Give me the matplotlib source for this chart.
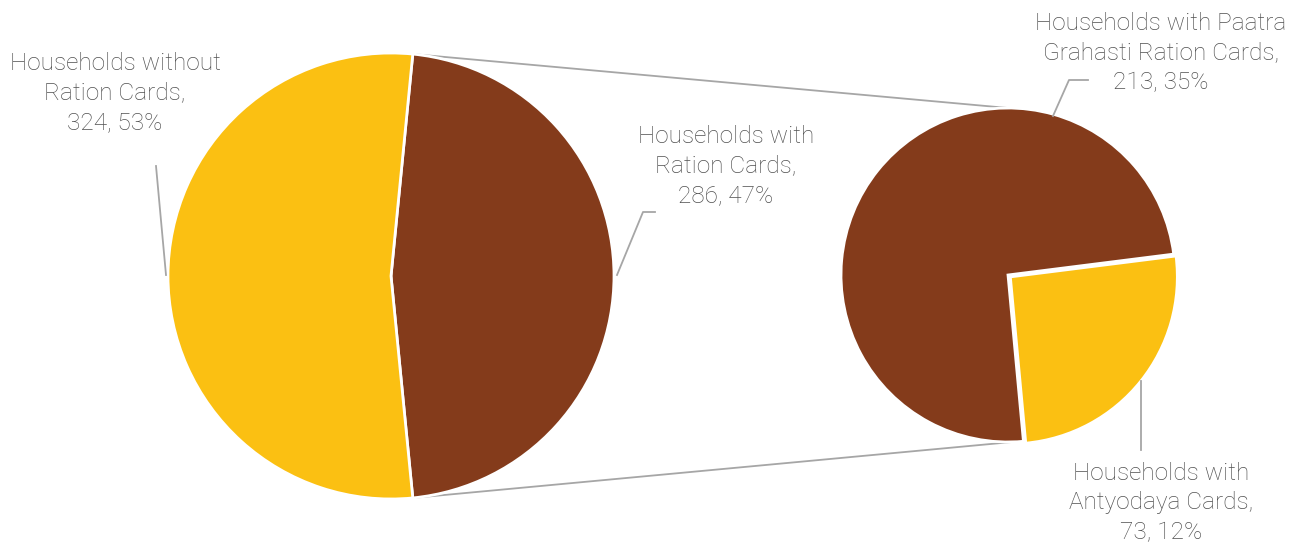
import matplotlib.pyplot as plt
import numpy as np

# ------------ data --------------------- #
main_labels = ['Households with\nRation Cards', 'Households without\nRation Cards']
main_values = [286, 324]
sub_labels = ['Households with\nAntyodaya Cards', 'Households with Paatra\nGrahasti Ration Cards']
sub_values = [73, 213]

YELLOW = '#FBC012'
BROWN = '#843B1B'
GREY = '#A6A6A6'
TXT = '#505050'

W, H = 1303, 547
plt.rcParams['font.family'] = ['Roboto', 'DejaVu Sans']

fig = plt.figure(figsize=(W / 100, H / 100), dpi=100)
ax = fig.add_axes([0, 0, 1, 1])

total = sum(main_values)

# left pie: brown slice centred on the right side
c1, r1 = (391, H - 276), 223
start1 = -360 * main_values[0] / total / 2
ax.pie(main_values, colors=[BROWN, YELLOW], startangle=start1, center=c1, radius=r1,
       wedgeprops=dict(edgecolor='white', linewidth=2), frame=True)

# right pie: breakdown of households with ration cards
c2, r2 = (1008, H - 275), 167
ax.pie(sub_values, colors=[YELLOW, BROWN], startangle=-84.7, center=c2, radius=r2,
       explode=[3, 0], wedgeprops=dict(edgecolor='white', linewidth=2), frame=True)

# connector lines between the pies
a_top = np.deg2rad(start1 + 360 * main_values[0] / total)
a_bot = np.deg2rad(start1)
ax.plot([c1[0] + r1 * np.cos(a_top), c2[0]], [c1[1] + r1 * np.sin(a_top), c2[1] + r2],
        c=GREY, lw=1.3, zorder=0)
ax.plot([c1[0] + r1 * np.cos(a_bot), c2[0] + 4], [c1[1] + r1 * np.sin(a_bot), c2[1] - r2],
        c=GREY, lw=1.3, zorder=0)

# leader lines (pixel coords from top-left)
leaders = [
    [(156, 166), (166, 275)],
    [(617, 275), (643, 212), (655, 212)],
    [(1053, 116), (1069, 80), (1088, 80)],
    [(1141, 381), (1141, 450)],
]
for pts in leaders:
    xs, ys = zip(*pts)
    ax.plot(xs, [H - y for y in ys], c=GREY, lw=1.3, zorder=1)

# data labels
label_pos = [(726, 166), (115, 93), (1161, 503), (1161, 53)]
all_labels = main_labels + sub_labels
all_values = main_values + sub_values
pcts = [v / total * 100 for v in main_values] + [v / total * 100 for v in sub_values]
for (x, y), lab, v, p in zip(label_pos, all_labels, all_values, pcts):
    ax.text(x, H - y, f'{lab},\n{v}, {p:.0f}%', ha='center', va='center', fontsize=17.6,
            color=TXT, fontweight='light', linespacing=1.36)

ax.set_xlim(0, W)
ax.set_ylim(0, H)
ax.set_aspect('equal')
ax.axis('off')

plt.savefig('out.png', dpi=100)
